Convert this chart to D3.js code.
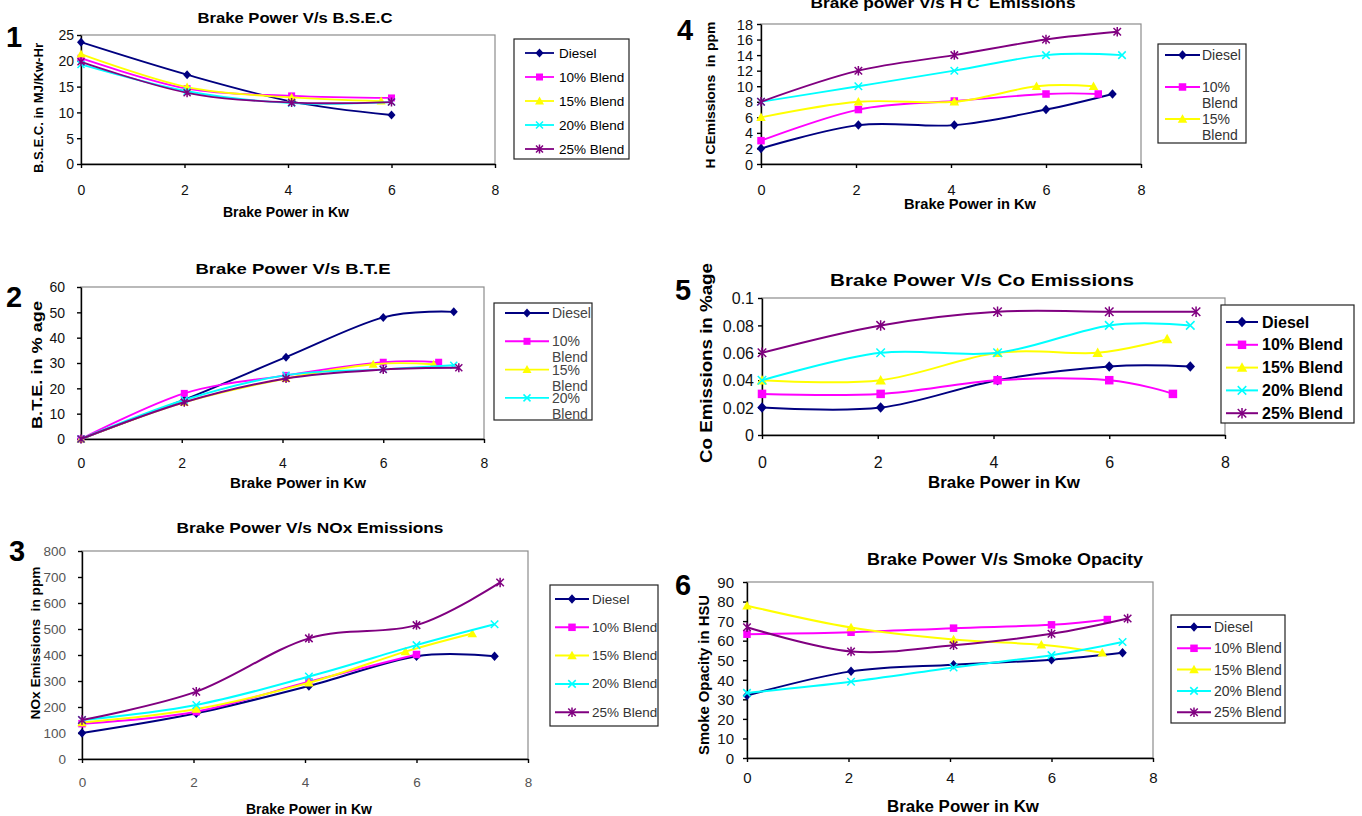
<!DOCTYPE html>
<html>
<head>
<meta charset="utf-8">
<script src="https://cdnjs.cloudflare.com/ajax/libs/d3/7.8.5/d3.min.js"></script>
<style>
body { margin: 0; background: #fff; }
svg { display: block; font-family: "Liberation Sans", Arial, sans-serif; }
</style>
</head>
<body>
<script>
// series names
var seriesNames = ["Diesel", "10% Blend", "15% Blend", "20% Blend", "25% Blend"];

// brake power (Kw) of every reading, per fuel
var loadDiesel = [0, 2.05, 4.07, 6, 7.4];
var load10 = [0, 2.05, 4.07, 6, 7.1];
var load15 = [0, 2.05, 4.07, 5.8, 7.0];
var load20 = [0, 2.05, 4.07, 6, 7.4];
var load25 = [0, 2.05, 4.07, 6, 7.5];
var hcLoad20 = [0, 2.05, 4.07, 6, 7.6];

// 1 - B.S.E.C
var bsecDiesel = [23.6, 17.3, 12.1, 9.5];
var bsec10 = [20.5, 14.6, 13.2, 12.8];
var bsec15 = [21.3, 14.9, 12.9, 12.2];
var bsec20 = [19.3, 14.1, 11.8, 12.0];
var bsec25 = [19.8, 13.8, 11.9, 12.0];

// 2 - B.T.E
var bteDiesel = [0, 15.5, 32.3, 48.0, 50.2];
var bte10 = [0, 18.0, 25.1, 30.3, 30.3];
var bte15 = [0, 14.5, 23.9, 29.5, 29.5];
var bte20 = [0, 15.4, 25.2, 27.5, 29.1];
var bte25 = [0, 14.5, 23.9, 27.4, 28.1];

// 3 - NOx
var noxDiesel = [100, 176, 281, 395, 395];
var nox10 = [136, 182, 297, 402];
var nox15 = [140, 192, 293, 413, 483];
var nox20 = [150, 208, 317, 438, 518];
var nox25 = [150, 259, 464, 515, 679];

// 4 - HC
var hcDiesel = [2, 5, 5, 7, 9];
var hc10 = [3, 7, 8.1, 9, 9];
var hc15 = [6, 8, 8, 10, 10];
var hc20 = [8, 10, 12, 14, 14];
var hc25 = [8, 12, 14, 16, 17];

// 5 - CO
var coDiesel = [0.02, 0.02, 0.04, 0.05, 0.05];
var co10 = [0.03, 0.03, 0.04, 0.04, 0.03];
var co15 = [0.04, 0.04, 0.06, 0.06, 0.07];
var co20 = [0.04, 0.06, 0.06, 0.08, 0.08];
var co25 = [0.06, 0.08, 0.09, 0.09, 0.09];

// 6 - smoke
var smokeDiesel = [32, 44.3, 47.7, 50.3, 53.8];
var smoke10 = [63.3, 64.3, 66.4, 68.1, 70.8];
var smoke15 = [77.9, 66.7, 60.6, 57.9, 53.8];
var smoke20 = [33.3, 39, 46.3, 52.6, 59.3];
var smoke25 = [66.9, 54.5, 57.7, 63.5, 71.3];

var xTicks = [0, 2, 4, 6, 8];

var colors = ["#000080", "#ff00ff", "#ffff00", "#00ffff", "#800080"];
var markers = ["diamond", "square", "triangle", "cross", "star"];
var loads = [loadDiesel, load10, load15, load20, load25];

var panels = [
	{ num: "1", numX: 14, numY: 37, title: "Brake Power V/s B.S.E.C", yLabel: "B.S.E.C. in MJ/Kw-Hr",
		ys: [bsecDiesel, bsec10, bsec15, bsec20, bsec25], yMax: 25, yStep: 5,
		l: 81, r: 495, t: 35, b: 164, ms: 7, lw: 1.8, tickFs: 14, xOff: 26, yGap: 7, tickColor: "#111",
		tX: 295, tY: 17, tW: 195, tFs: 15,
		xtX: 286, xtY: 212, xtW: 126, xtFs: 14,
		ytX: 38, ytY: 108, ytW: 130, ytFs: 13,
		lg: { x: 514, y: 39, w: 115, h: 120, y0: 53, gap: 24, x0: 525, x1: 554, tx: 559, fs: 13.5 } },
	{ num: "2", numX: 14, numY: 297, title: "Brake Power V/s B.T.E", yLabel: "B.T.E. in % age",
		ys: [bteDiesel, bte10, bte15, bte20, bte25], yMax: 60, yStep: 10,
		l: 81, r: 484, t: 287, b: 439, ms: 7, lw: 1.9, tickFs: 14, xOff: 24, yGap: 16, tickColor: "#111",
		tX: 293, tY: 268, tW: 195, tFs: 15,
		xtX: 298, xtY: 483, xtW: 136, xtFs: 14,
		ytX: 37, ytY: 365, ytW: 128, ytFs: 14,
		lg: { x: 494, y: 303, w: 98, h: 117, y0: 313, gap: 28.3, wrap: 16, x0: 505, x1: 549, tx: 552, fs: 14, color: "#444" } },
	{ num: "3", numX: 17, numY: 551, title: "Brake Power V/s NOx Emissions", yLabel: "NOx Emissions  in ppm",
		ys: [noxDiesel, nox10, nox15, nox20, nox25], yMax: 800, yStep: 100,
		l: 82, r: 528, t: 551, b: 759, ms: 7.5, lw: 2, tickFs: 13.5, xOff: 23, yGap: 16, tickColor: "#555",
		tX: 310, tY: 527, tW: 267, tFs: 15,
		xtX: 309, xtY: 809, xtW: 126, xtFs: 14,
		ytX: 35, ytY: 643, ytW: 153, ytFs: 13,
		lg: { x: 550, y: 585, w: 108, h: 141, y0: 599, gap: 28.3, x0: 555, x1: 589, tx: 592, fs: 13.5, color: "#333" } },
	{ num: "4", numX: 685, numY: 30, title: "Brake power V/s H C  Emissions", yLabel: "H CEmissions  in ppm",
		ys: [hcDiesel, hc10, hc15, hc20, hc25], xs: [loadDiesel, load10, load15, hcLoad20, load25], yMax: 18, yStep: 2,
		l: 761, r: 1141, t: 24, b: 164, ms: 7.5, lw: 1.9, tickFs: 14.5, xOff: 26, yGap: 8, tickColor: "#111",
		tX: 943, tY: 7.5, tW: 265, tFs: 15,
		xtX: 970, xtY: 204, xtW: 132, xtFs: 14,
		ytX: 710, ytY: 95, ytW: 147, ytFs: 13,
		lg: { x: 1158, y: 44, w: 88, h: 99, y0: 55, gap: 32, wrap: 16, x0: 1165, x1: 1200, tx: 1202, fs: 14, color: "#333" } },
	{ num: "5", numX: 683, numY: 290, title: "Brake Power V/s Co Emissions", yLabel: "Co Emissions in %age",
		ys: [coDiesel, co10, co15, co20, co25], yMax: 0.1, yStep: 0.02,
		l: 762, r: 1225, t: 298, b: 435, ms: 8.5, lw: 2, tickFs: 16, xOff: 27, yGap: 8, tickColor: "#111",
		tX: 982, tY: 280, tW: 304, tFs: 17,
		xtX: 1004, xtY: 482, xtW: 152, xtFs: 16,
		ytX: 706, ytY: 363, ytW: 200, ytFs: 16,
		lg: { x: 1221, y: 305, w: 133, h: 118, y0: 322, gap: 22.8, x0: 1226, x1: 1258, tx: 1262, fs: 16, bold: true } },
	{ num: "6", numX: 683, numY: 585, title: "Brake Power V/s Smoke Opacity", yLabel: "Smoke Opacity in HSU",
		ys: [smokeDiesel, smoke10, smoke15, smoke20, smoke25], yMax: 90, yStep: 10,
		l: 747, r: 1153, t: 582, b: 758, ms: 7.5, lw: 2, tickFs: 15, xOff: 20, yGap: 13, tickColor: "#111",
		tX: 1005, tY: 559, tW: 276, tFs: 16,
		xtX: 963, xtY: 806, xtW: 152, xtFs: 16,
		ytX: 704, ytY: 675, ytW: 160, ytFs: 14,
		lg: { x: 1171, y: 615, w: 114, h: 108, y0: 627, gap: 21.3, x0: 1177, x1: 1211, tx: 1214, fs: 14, color: "#333" } }
];

var svg = d3.select("body").append("svg")
	.attr("width", 1362)
	.attr("height", 816);

function drawMarker(g, type, color, s) {
	var h = s / 2;
	if (type == "diamond")
		g.append("path").attr("d", "M0," + (-h - 1) + "L" + (h + 0.5) + ",0L0," + (h + 1) + "L" + (-h - 0.5) + ",0Z").attr("fill", color);
	else if (type == "square")
		g.append("rect").attr("x", -h).attr("y", -h).attr("width", s).attr("height", s).attr("fill", color);
	else if (type == "triangle")
		g.append("path").attr("d", "M0," + (-h - 1) + "L" + (h + 1) + "," + h + "L" + (-h - 1) + "," + h + "Z").attr("fill", color);
	else if (type == "cross")
		g.append("path").attr("d", "M" + -h + "," + -h + "L" + h + "," + h + "M" + -h + "," + h + "L" + h + "," + -h)
			.attr("stroke", color).attr("stroke-width", 1.5).attr("fill", "none");
	else
		g.append("path").attr("d", "M" + -h + "," + -h + "L" + h + "," + h + "M" + -h + "," + h + "L" + h + "," + -h + "M0," + (-h - 1) + "L0," + (h + 1))
			.attr("stroke", color).attr("stroke-width", 1.5).attr("fill", "none");
}

function addText(g, txt, x, y, fs, len, opts) {
	opts = opts || {};
	var t = g.append("text")
		.attr("x", x).attr("y", y)
		.attr("font-size", fs)
		.attr("font-weight", "bold")
		.attr("text-anchor", "middle")
		.attr("dominant-baseline", opts.baseline || "central")
		.style("white-space", "pre")
		.attr("fill", "#000")
		.text(txt);
	if (len) t.attr("textLength", len).attr("lengthAdjust", "spacingAndGlyphs");
	if (opts.rotate) t.attr("transform", "rotate(-90," + x + "," + y + ")");
	return t;
}

function drawPanel(p, pi) {
	var g = svg.append("g");
	var x = d3.scaleLinear().domain([0, 8]).range([p.l, p.r]);
	var y = d3.scaleLinear().domain([0, p.yMax]).range([p.b, p.t]);

	// plot area
	g.append("rect")
		.attr("x", p.l).attr("y", p.t)
		.attr("width", p.r - p.l).attr("height", p.b - p.t)
		.attr("fill", "#fff").attr("stroke", "#8c8c8c").attr("stroke-width", 1.2);

	var yTicks = d3.range(0, p.yMax + p.yStep / 2, p.yStep);

	var xa = g.append("g")
		.attr("transform", "translate(0," + p.b + ")")
		.call(d3.axisBottom(x).tickValues(xTicks).tickSizeInner(4).tickSizeOuter(0).tickFormat(d3.format("d")));
	xa.selectAll("text").attr("y", p.xOff).attr("dy", "0.35em")
		.attr("font-size", p.tickFs).attr("fill", p.tickColor);

	var ya = g.append("g")
		.attr("transform", "translate(" + p.l + ",0)")
		.call(d3.axisLeft(y).tickValues(yTicks).tickSizeInner(4).tickSizeOuter(0)
			.tickFormat(function(d) { return String(+d.toFixed(2)); }));
	ya.selectAll("text").attr("x", -p.yGap).attr("dy", "0.35em")
		.attr("font-size", p.tickFs).attr("fill", p.tickColor);
	xa.attr("font-family", null);
	ya.attr("font-family", null);
	g.selectAll(".domain, .tick line").attr("stroke", "#000").attr("stroke-width", 1.4);

	// series
	var line = d3.line()
		.x(function(d) { return x(d[0]); })
		.y(function(d) { return y(d[1]); })
		.curve(d3.curveCatmullRom.alpha(0));

	p.ys.forEach(function(vals, i) {
		var xs = (p.xs || loads)[i];
		var pts = vals.map(function(v, k) { return [xs[k], v]; });
		g.append("path")
			.attr("d", line(pts))
			.attr("fill", "none")
			.attr("stroke", colors[i])
			.attr("stroke-width", p.lw);
		pts.forEach(function(d) {
			var m = g.append("g").attr("transform", "translate(" + x(d[0]) + "," + y(d[1]) + ")");
			drawMarker(m, markers[i], colors[i], p.ms);
		});
	});

	// texts
	addText(g, p.title, p.tX, p.tY, p.tFs, p.tW, pi == 3 ? { baseline: "alphabetic" } : {});
	addText(g, "Brake Power in Kw", p.xtX, p.xtY, p.xtFs, p.xtW);
	addText(g, p.yLabel, p.ytX, p.ytY, p.ytFs, p.ytW, { rotate: true });
	addText(g, p.num, p.numX, p.numY, 29, null);

	// legend
	var lg = p.lg;
	var clipId = "lgclip" + pi;
	svg.append("clipPath").attr("id", clipId)
		.append("rect").attr("x", lg.x).attr("y", lg.y).attr("width", lg.w).attr("height", lg.h);
	var lgG = g.append("g");
	lgG.append("rect")
		.attr("x", lg.x).attr("y", lg.y).attr("width", lg.w).attr("height", lg.h)
		.attr("fill", "#fff").attr("stroke", "#222").attr("stroke-width", 1.2);
	var items = lgG.append("g").attr("clip-path", "url(#" + clipId + ")");
	seriesNames.forEach(function(name, i) {
		var ry = lg.y0 + i * lg.gap;
		items.append("line")
			.attr("x1", lg.x0).attr("x2", lg.x1).attr("y1", ry).attr("y2", ry)
			.attr("stroke", colors[i]).attr("stroke-width", p.lw);
		var m = items.append("g").attr("transform", "translate(" + (lg.x0 + lg.x1) / 2 + "," + ry + ")");
		drawMarker(m, markers[i], colors[i], p.ms);
		var lines = lg.wrap ? name.split(" ") : [name];
		lines.forEach(function(s, k) {
			items.append("text")
				.attr("x", lg.tx).attr("y", ry + k * (lg.wrap || 0))
				.attr("dominant-baseline", "central")
				.attr("font-size", lg.fs)
				.attr("font-weight", lg.bold ? "bold" : "normal")
				.attr("fill", lg.color || "#000")
				.text(s);
		});
	});
}

panels.forEach(drawPanel);
</script>
</body>
</html>
